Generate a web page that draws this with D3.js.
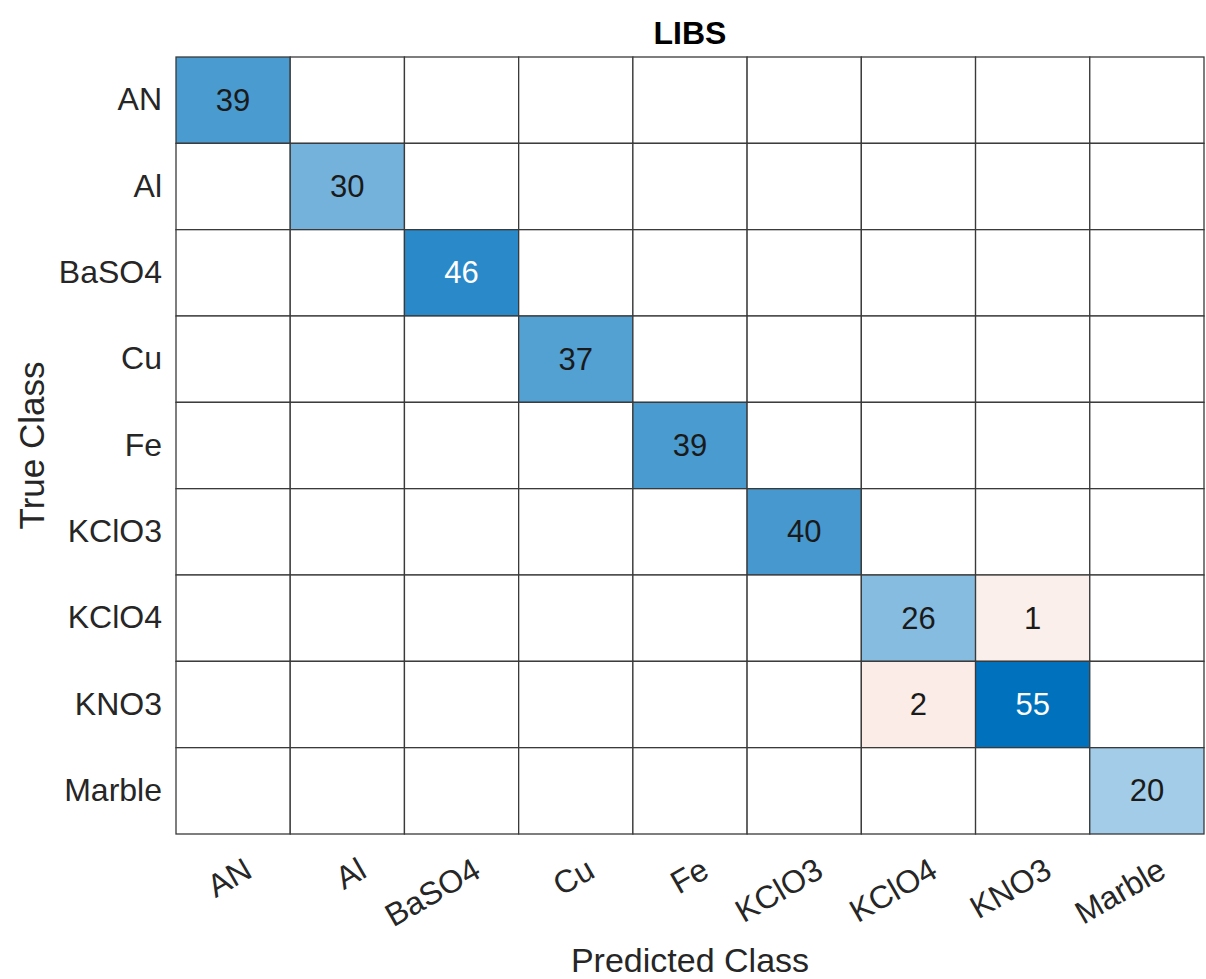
<!DOCTYPE html>
<html>
<head>
<meta charset="utf-8">
<script src="https://cdn.jsdelivr.net/npm/d3@7"></script>
<style>
  html, body { margin: 0; padding: 0; background: #fff; }
  svg { display: block; font-family: "Liberation Sans", Arial, Helvetica, sans-serif; }
</style>
</head>
<body>
<svg id="chart" width="1206" height="979"></svg>
<script>
// Class names (rows = true class, columns = predicted class)
const classes = ["AN", "Al", "BaSO4", "Cu", "Fe", "KClO3", "KClO4", "KNO3", "Marble"];

// Non-zero confusion counts: [true class, predicted class, count]
const trueClass      = ["AN", "Al", "BaSO4", "Cu", "Fe", "KClO3", "KClO4", "KClO4", "KNO3", "KNO3", "Marble"];
const predictedClass = ["AN", "Al", "BaSO4", "Cu", "Fe", "KClO3", "KClO4", "KNO3", "KClO4", "KNO3", "Marble"];
const counts         = [39,   30,   46,      37,   39,   40,      26,      1,      2,       55,     20];

const chartTitle = "LIBS";
const xTitle = "Predicted Class";
const yTitle = "True Class";

const cells = [];
classes.forEach(t => classes.forEach(p => cells.push({ t, p, v: 0 })));
counts.forEach((v, i) => {
  const c = cells.find(d => d.t === trueClass[i] && d.p === predictedClass[i]);
  c.v = v;
});

const svg = d3.select("#chart");
const plotLeft = 176, plotRight = 1204, plotTop = 57, plotBottom = 834;

const x = d3.scaleBand().domain(classes).range([plotLeft, plotRight]);
const y = d3.scaleBand().domain(classes).range([plotTop, plotBottom]);

const maxVal = d3.max(counts);
const diagColor = d3.scaleLinear().domain([0, maxVal]).range(["#ffffff", "#0072BD"]);
const offColor = d3.scaleLinear().domain([0, maxVal]).range(["#fcf2ef", "#D95319"]);

// cells
svg.append("g").selectAll("rect")
  .data(cells)
  .join("rect")
  .attr("x", d => x(d.p))
  .attr("y", d => y(d.t))
  .attr("width", x.bandwidth())
  .attr("height", y.bandwidth())
  .attr("fill", d => d.v === 0 ? "#ffffff" : (d.t === d.p ? diagColor(d.v) : offColor(d.v)))
  .attr("stroke", "#3a3a3a")
  .attr("stroke-width", 1.3);

// counts
svg.append("g").selectAll("text")
  .data(cells.filter(d => d.v > 0))
  .join("text")
  .attr("x", d => x(d.p) + x.bandwidth() / 2)
  .attr("y", d => y(d.t) + y.bandwidth() / 2)
  .attr("text-anchor", "middle")
  .attr("dominant-baseline", "central")
  .attr("font-size", 31)
  .attr("fill", d => (d.t === d.p && d.v / maxVal > 0.8) ? "#ffffff" : "#1a1a1a")
  .text(d => d.v);

// y axis tick labels
const yAxis = d3.axisLeft(y).tickSize(0).tickPadding(14);
const gy = svg.append("g").attr("transform", `translate(${plotLeft},0)`).call(yAxis);
gy.select(".domain").remove();
gy.selectAll("text").attr("font-size", 32).attr("fill", "#262626").attr("font-family", null);

// x axis tick labels, rotated
const xAxis = d3.axisBottom(x).tickSize(0).tickPadding(0);
const gx = svg.append("g").attr("transform", `translate(0,${plotBottom})`).call(xAxis);
gx.select(".domain").remove();
gx.selectAll("text")
  .attr("font-size", 32)
  .attr("fill", "#262626")
  .attr("font-family", null)
  .attr("text-anchor", "end")
  .attr("dy", null)
  .attr("y", 0)
  .attr("transform", "translate(21,42) rotate(-30)");

// titles
svg.append("text")
  .attr("x", (plotLeft + plotRight) / 2).attr("y", 44)
  .attr("text-anchor", "middle")
  .attr("font-size", 32).attr("font-weight", "bold")
  .text(chartTitle);

svg.append("text")
  .attr("x", (plotLeft + plotRight) / 2).attr("y", 972)
  .attr("text-anchor", "middle")
  .attr("font-size", 34).attr("fill", "#262626")
  .text(xTitle);

svg.append("text")
  .attr("transform", `translate(44,${(plotTop + plotBottom) / 2}) rotate(-90)`)
  .attr("text-anchor", "middle")
  .attr("font-size", 35).attr("fill", "#262626")
  .text(yTitle);
</script>
</body>
</html>
